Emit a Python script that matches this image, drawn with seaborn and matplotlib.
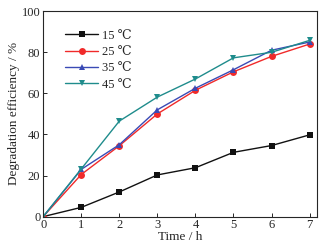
import seaborn as sns
import pandas as pd
import matplotlib.pyplot as plt

time_h = [0, 1, 2, 3, 4, 5, 6, 7]
eff_15 = [0, 4.5, 12.0, 20.3, 23.8, 31.3, 34.6, 39.8]
eff_25 = [0, 20.5, 34.5, 50.0, 61.5, 70.5, 78.0, 84.0]
eff_35 = [0, 23.0, 35.0, 52.0, 62.5, 71.5, 81.0, 85.0]
eff_45 = [0, 23.2, 46.5, 58.2, 67.0, 77.3, 80.0, 85.8]
labels = ['15 ℃', '25 ℃', '35 ℃', '45 ℃']

df = pd.concat([
    pd.DataFrame({'time': time_h, 'eff': v, 'temp': lab})
    for v, lab in zip([eff_15, eff_25, eff_35, eff_45], labels)
])

sns.set_style('ticks')
plt.rcParams['font.family'] = ['Liberation Serif', 'DejaVu Serif', 'DejaVu Sans']
plt.rcParams['font.size'] = 9

fig = plt.figure(figsize=(3.27, 2.49), dpi=100)
ax = fig.add_axes([0.132, 0.13, 0.838, 0.825])

palette = ['#111111', '#f02a2a', '#3a4ab5', '#1f8c8c']
markers = ['s', 'o', '^', 'v']
for lab, c, m in zip(labels, palette, markers):
    sub = df[df['temp'] == lab]
    sns.lineplot(data=sub, x='time', y='eff', ax=ax, color=c, marker=m,
                 markersize=5, markeredgewidth=0, linewidth=1.0, label=lab)

ax.set_xlim(0, 7.2)
ax.set_ylim(0, 100)
ax.set_xticks(range(0, 8))
ax.set_yticks(range(0, 101, 20))
ax.tick_params(direction='in', length=3, width=0.7, labelsize=9, pad=2)
ax.tick_params(top=False, right=False)
for s in ax.spines.values():
    s.set_visible(True)
    s.set_linewidth(0.8)
ax.set_xlabel('Time / h', fontsize=9.5, labelpad=0)
ax.set_ylabel('Degradation efficiency / %', fontsize=9.5, labelpad=1)
ax.legend(loc='upper left', bbox_to_anchor=(0.04, 0.965), frameon=False,
          fontsize=9, handlelength=2.6, labelspacing=0.35, handletextpad=0.3)

fig.savefig('out.png', dpi=100)
